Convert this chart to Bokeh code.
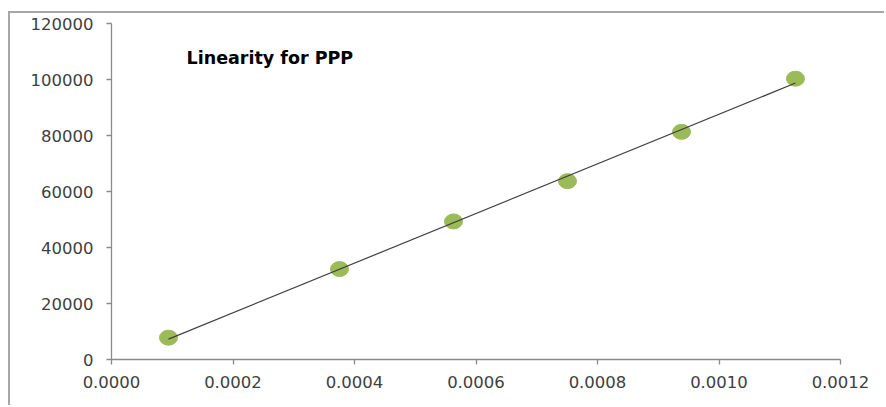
import numpy as np
from bokeh.plotting import figure
from bokeh.models import Range1d, NumeralTickFormatter, FixedTicker, Label, ColumnDataSource
from bokeh.embed import file_html
from bokeh.resources import INLINE

# data
conc = [0.0000938, 0.0003753, 0.0005630, 0.0007506, 0.0009383, 0.0011259]
area = [7800, 32300, 49300, 63700, 81300, 100300]
x_ticks = [0.0, 0.0002, 0.0004, 0.0006, 0.0008, 0.0010, 0.0012]
y_ticks = [0, 20000, 40000, 60000, 80000, 100000, 120000]
title_text = "Linearity for PPP"

FONT = "DejaVu Sans"
AX = "#8a8a8a"

p = figure(width=876, height=394, output_backend="svg", toolbar_location=None,
           x_range=Range1d(0, 0.0012), y_range=Range1d(0, 120000),
           min_border_left=101, min_border_right=46, min_border_top=10, min_border_bottom=48)
p.outline_line_color = None
p.xgrid.grid_line_color = None
p.ygrid.grid_line_color = None
p.background_fill_color = "white"
p.border_fill_color = "white"
p.styles = {"margin-left": "8px", "margin-top": "11px",
            "border-left": "2px solid #a6a6a6", "border-top": "2px solid #a6a6a6"}

for ax in (p.xaxis[0], p.yaxis[0]):
    ax.axis_line_color = AX
    ax.axis_line_width = 1.3
    ax.major_tick_line_color = AX
    ax.major_tick_line_width = 1.3
    ax.major_tick_in = 0
    ax.major_tick_out = 5
    ax.minor_tick_line_color = None
    ax.major_label_text_font = FONT
    ax.major_label_text_font_size = "16.5px"
    ax.major_label_text_color = "#404040"

p.xaxis[0].ticker = FixedTicker(ticks=x_ticks)
p.yaxis[0].ticker = FixedTicker(ticks=y_ticks)
p.xaxis[0].formatter = NumeralTickFormatter(format="0.0000")
p.yaxis[0].formatter = NumeralTickFormatter(format="0")
p.xaxis[0].major_label_standoff = 11
p.yaxis[0].major_label_standoff = 13

src = ColumnDataSource(dict(x=conc, y=area))
p.ellipse(x="x", y="y", width=18, height=15, width_units="screen", height_units="screen",
          source=src, fill_color="#9BBB59", line_color="#9BBB59")

# linear trendline
a, b = np.polyfit(conc, area, 1)
xs = [min(conc), max(conc)]
ys = [a * xs[0] + b, a * xs[1] + b]
p.line(xs, ys, line_color="#404040", line_width=1.2)

p.add_layout(Label(x=0.0001235, y=107800, text=title_text, text_font=FONT,
                   text_font_style="bold", text_font_size="17.5px", text_color="black",
                   text_baseline="middle"))

open("out.html", "w").write(file_html(p, INLINE))
